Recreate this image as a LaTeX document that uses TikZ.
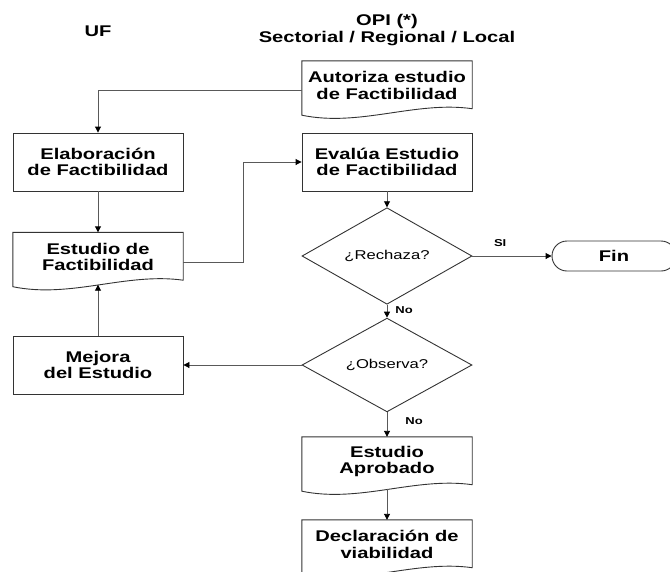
\documentclass[tikz,border=0pt]{standalone}
\usepackage{fontspec}
\setmainfont{Liberation Sans}[FakeStretch=1.3]
\usetikzlibrary{arrows.meta,positioning,shapes.geometric,calc}

\begin{document}
\begin{tikzpicture}[x=1pt,y=-1pt,
txt/.style={font=\bfseries\fontsize{15.5}{16.5}\selectfont,align=center,inner sep=0pt},
box/.style={txt,draw=black!80,line width=0.9pt,minimum width=170pt,minimum height=58pt},
doc/.style={txt,minimum width=170pt,minimum height=49pt},
dec/.style={diamond,draw=black!80,line width=0.9pt,minimum width=170pt,minimum height=71pt,inner sep=0pt,font=\fontsize{12.8}{14}\selectfont},
term/.style={txt,draw=black!80,line width=0.9pt,rounded corners=15pt,minimum width=124pt,minimum height=30pt},
lbl/.style={font=\bfseries\fontsize{10}{12}\selectfont,inner sep=0pt},
arr/.style={-{Triangle[length=6pt,width=6pt,color=black]},draw=black!65,line width=0.9pt}]
\useasboundingbox (0,0) rectangle (670,571);
\clip (0,0) rectangle (670,571);
\node[txt] (uf) at (98,31) {UF};
\node[txt] (opi) at (387,30) {OPI (*)\\Sectorial / Regional / Local};
\node[doc] (autoriza) at (387,85.5) {Autoriza estudio\\de Factibilidad};
\node[box] (elab) at (98,162) {Elaboración\\de Factibilidad};
\node[box] (evalua) at (387,162) {Evalúa Estudio\\de Factibilidad};
\node[doc] (estudio) at (98,257) {Estudio de\\Factibilidad};
\node[dec] (rechaza) at (387,256) {¿Rechaza?};
\node[term] (fin) at (614,256) {Fin};
\node[dec] (observa) at (387,365) {¿Observa?};
\node[box] (mejora) at (98,365) {Mejora\\del Estudio};
\node[doc] (aprobado) at (387,461.5) {Estudio\\Aprobado};
\node[doc] (declara) at (387,544.5) {Declaración de\\viabilidad};
% document outlines with wavy bottom
\foreach \n in {autoriza,estudio,aprobado,declara}
  \draw[draw=black!80,line width=0.9pt] (\n.north west) -- (\n.north east) -- ($(\n.south east)+(0,-1.5)$)
    .. controls +(-57,-8) and +(58,12) .. ($(\n.south west)+(0,5)$) -- cycle;
% connectors
\draw[arr] ([yshift=-4.5pt]autoriza.west) -| (elab.north);
\draw[arr] (elab) -- (estudio);
\draw[arr] ([yshift=-5pt]estudio.east) -- ++(60,0) |- (evalua.west);
\draw[arr] (evalua) -- (rechaza);
\draw[arr] (rechaza) -- node[lbl,above=9pt,pos=0.35]{SI} (fin);
\draw[arr] (rechaza) -- node[lbl,right=8pt,pos=0.4]{No} (observa);
\draw[arr] (observa) -- (mejora);
\draw[arr] (mejora) -- ([yshift=-3pt]estudio.south);
\draw[arr] (observa) -- node[lbl,right=18pt,pos=0.34]{No} (aprobado);
\draw[arr] ([yshift=-3pt]aprobado.south) -- (declara);
\end{tikzpicture}
\end{document}
